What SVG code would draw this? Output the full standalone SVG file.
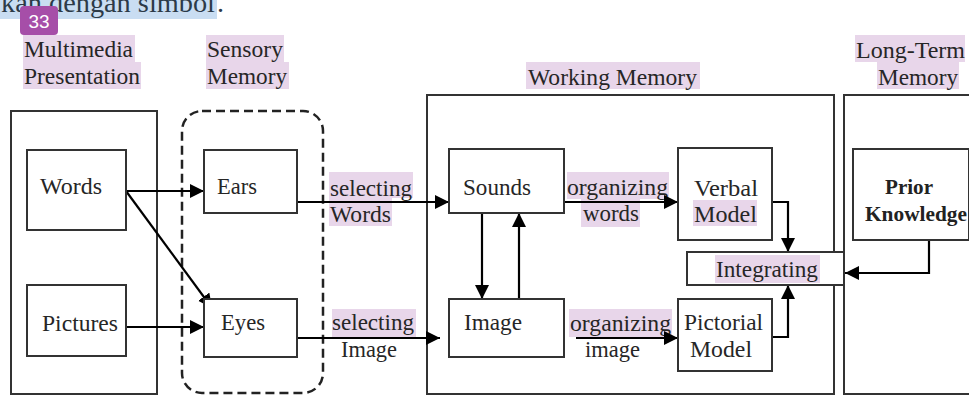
<svg xmlns="http://www.w3.org/2000/svg" width="969" height="396" viewBox="0 0 969 396" font-family="Liberation Serif, Times New Roman, serif">
<defs>
<style>
.t{font-family:'Liberation Serif','Times New Roman',serif;font-size:23px;fill:#262626}
.b{font-family:'Liberation Serif','Times New Roman',serif;font-size:21px;font-weight:bold;fill:#222}
.hl{fill:#e8d6ea}
.box{fill:#fff;stroke:#333;stroke-width:2}
.cont{fill:none;stroke:#333;stroke-width:2}
.ln{fill:none;stroke:#000;stroke-width:2.2}
</style>
<marker id="ah" markerUnits="userSpaceOnUse" markerWidth="15" markerHeight="15" refX="14" refY="7" orient="auto">
<path d="M0,0 L14,7 L0,14 z" fill="#000"/>
</marker>
</defs>
<rect x="0" y="0" width="969" height="396" fill="#fff"/>
<g id="header">
<rect x="0" y="0" width="217" height="19" fill="#c9ddf2"/>
<text x="1" y="12" textLength="214" lengthAdjust="spacingAndGlyphs" font-family="Liberation Serif, serif" font-size="28" fill="#2c3a48">kan dengan simbol</text>
<text x="217" y="12" font-family="Liberation Serif, serif" font-size="28" fill="#2c3a48">.</text>
<rect x="20" y="6" width="38" height="29" rx="4" fill="#a64ea8"/>
<text x="39" y="28" text-anchor="middle" font-family="Liberation Sans, Arial, sans-serif" font-size="19" fill="#fff">33</text>
</g>
<g id="titles">
<rect class="hl" x="23" y="35" width="112" height="27"/>
<rect class="hl" x="23" y="62" width="118" height="27"/>
<rect class="hl" x="206" y="35" width="78" height="27"/>
<rect class="hl" x="206" y="62" width="83" height="27"/>
<rect class="hl" x="526" y="62" width="174" height="27"/>
<rect class="hl" x="855" y="35" width="110" height="27"/>
<rect class="hl" x="877" y="62" width="82" height="27"/>
<text class="t" x="24" y="57" textLength="109" lengthAdjust="spacingAndGlyphs">Multimedia</text>
<text class="t" x="24" y="84" textLength="116" lengthAdjust="spacingAndGlyphs">Presentation</text>
<text class="t" x="207" y="57" textLength="76" lengthAdjust="spacingAndGlyphs">Sensory</text>
<text class="t" x="207" y="84" textLength="80" lengthAdjust="spacingAndGlyphs">Memory</text>
<text class="t" x="528" y="85" textLength="169" lengthAdjust="spacingAndGlyphs">Working Memory</text>
<text class="t" x="856" y="58" textLength="109" lengthAdjust="spacingAndGlyphs">Long-Term</text>
<text class="t" x="878" y="85" textLength="80" lengthAdjust="spacingAndGlyphs">Memory</text>
</g>
<g id="containers">
<rect id="multimedia-presentation" class="cont" x="11" y="111" width="146" height="283"/>
<rect id="sensory-memory" x="182" y="111" width="141" height="282" rx="20" fill="none" stroke="#222" stroke-width="2.5" stroke-dasharray="9 5"/>
<rect id="working-memory" class="cont" x="427" y="95" width="407" height="299"/>
<rect id="long-term-memory" class="cont" x="844" y="95" width="140" height="299"/>
</g>
<g id="edge-labels">
<rect class="hl" x="329" y="172" width="84" height="26"/>
<rect class="hl" x="329" y="198" width="63" height="28"/>
<rect class="hl" x="567" y="172" width="102" height="27"/>
<rect class="hl" x="581" y="199" width="59" height="28"/>
<rect class="hl" x="332" y="309" width="84" height="28"/>
<rect class="hl" x="569" y="309" width="103" height="28"/>
<text class="t" x="330" y="196" textLength="82" lengthAdjust="spacingAndGlyphs">selecting</text>
<text class="t" x="330" y="222" textLength="61" lengthAdjust="spacingAndGlyphs">Words</text>
<text class="t" x="567" y="195" textLength="101" lengthAdjust="spacingAndGlyphs">organizing</text>
<text class="t" x="583" y="221" textLength="56" lengthAdjust="spacingAndGlyphs">words</text>
<text class="t" x="332" y="330" textLength="82" lengthAdjust="spacingAndGlyphs">selecting</text>
<text class="t" x="341" y="357" textLength="56" lengthAdjust="spacingAndGlyphs">Image</text>
<text class="t" x="570" y="331" textLength="101" lengthAdjust="spacingAndGlyphs">organizing</text>
<text class="t" x="585" y="357" textLength="55" lengthAdjust="spacingAndGlyphs">image</text>
</g>
<g id="connectors">
<path class="ln" d="M126,191 L204,191" marker-end="url(#ah)"/>
<path class="ln" d="M126,191 L212,308" marker-end="url(#ah)"/>
<path class="ln" d="M126,327 L204,327" marker-end="url(#ah)"/>
<path class="ln" d="M297,202 L449,202" marker-end="url(#ah)"/>
<path class="ln" d="M297,338 L440,338" marker-end="url(#ah)"/>
<path class="ln" d="M482,213 L482,299" marker-end="url(#ah)"/>
<path class="ln" d="M519,299 L519,213" marker-end="url(#ah)"/>
<path class="ln" d="M564,202 L678,202" marker-end="url(#ah)"/>
<path class="ln" d="M576,338 L678,338" marker-end="url(#ah)"/>
<path class="ln" d="M772,202 L788,202 L788,252" marker-end="url(#ah)"/>
<path class="ln" d="M772,337 L788,337 L788,285" marker-end="url(#ah)"/>
<path class="ln" d="M929,240 L929,273 L845,273" marker-end="url(#ah)"/>
</g>
<g id="words">
<rect class="box" x="27" y="150" width="99" height="80"/>
<text class="t" x="40" y="194" textLength="62" lengthAdjust="spacingAndGlyphs">Words</text>
</g>
<g id="pictures">
<rect class="box" x="27" y="285" width="99" height="71"/>
<text class="t" x="42" y="331" textLength="76" lengthAdjust="spacingAndGlyphs">Pictures</text>
</g>
<g id="ears">
<rect class="box" x="204" y="150" width="93" height="63"/>
<text class="t" x="217" y="194" textLength="40" lengthAdjust="spacingAndGlyphs">Ears</text>
</g>
<g id="eyes">
<rect class="box" x="204" y="299" width="93" height="58"/>
<text class="t" x="221" y="330" textLength="44" lengthAdjust="spacingAndGlyphs">Eyes</text>
</g>
<g id="sounds">
<rect class="box" x="449" y="149" width="115" height="64"/>
<text class="t" x="463" y="195" textLength="68" lengthAdjust="spacingAndGlyphs">Sounds</text>
</g>
<g id="image">
<rect class="box" x="449" y="299" width="115" height="58"/>
<text class="t" x="464" y="330" textLength="58" lengthAdjust="spacingAndGlyphs">Image</text>
</g>
<g id="verbal-model">
<rect class="box" x="678" y="148" width="94" height="92"/>
<rect class="hl" x="693" y="200" width="64" height="26"/>
<text class="t" x="694" y="196" textLength="64" lengthAdjust="spacingAndGlyphs">Verbal</text>
<text class="t" x="694" y="222" textLength="63" lengthAdjust="spacingAndGlyphs">Model</text>
</g>
<g id="pictorial-model">
<rect class="box" x="678" y="299" width="94" height="72"/>
<text class="t" x="684" y="330" textLength="79" lengthAdjust="spacingAndGlyphs">Pictorial</text>
<text class="t" x="690" y="357" textLength="62" lengthAdjust="spacingAndGlyphs">Model</text>
</g>
<g id="integrating">
<rect class="box" x="687" y="252" width="157" height="33"/>
<rect class="hl" x="715" y="255" width="105" height="28"/>
<text class="t" x="716" y="277" textLength="102" lengthAdjust="spacingAndGlyphs">Integrating</text>
</g>
<g id="prior-knowledge">
<rect class="box" x="853" y="149" width="116" height="91"/>
<text class="b" x="885" y="194" textLength="48" lengthAdjust="spacingAndGlyphs">Prior</text>
<text class="b" x="865" y="221" textLength="102" lengthAdjust="spacingAndGlyphs">Knowledge</text>
</g>
</svg>
